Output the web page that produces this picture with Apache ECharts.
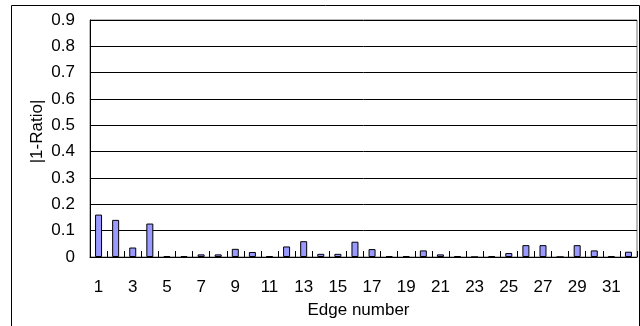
<!DOCTYPE html>
<html>
<head>
<meta charset="utf-8">
<script src="https://cdn.jsdelivr.net/npm/echarts@6/dist/echarts.min.js"></script>
<style>html,body{margin:0;padding:0;background:#fff}#c{width:640px;height:326px}</style>
</head>
<body>
<div id="c"></div>
<script>
var categories = ['1','2','3','4','5','6','7','8','9','10','11','12','13','14','15','16','17','18','19','20','21','22','23','24','25','26','27','28','29','30','31','32'];
var ratioValues = [0.161,0.141,0.036,0.127,0.003,0.003,0.010,0.010,0.031,0.019,0.003,0.040,0.060,0.012,0.012,0.058,0.030,0.003,0.003,0.025,0.010,0.003,0,0.003,0.015,0.045,0.045,0,0.045,0.025,0.003,0.020];
var yTicks = [0,0.1,0.2,0.3,0.4,0.5,0.6,0.7,0.8,0.9];
var xAxisName = 'Edge number';
var yAxisName = '|1-Ratio|';

var chart = echarts.init(document.getElementById('c'), null, {renderer:'canvas'});
var font = 'Liberation Sans, Arial, sans-serif';
chart.setOption({
  animation: false,
  graphic: [{
    type: 'rect',
    shape: {x: 11.5, y: 5.5, width: 628, height: 330},
    style: {fill: 'none', stroke: '#000', lineWidth: 1},
    z: 0
  }],
  grid: {left: 90, right: 3, top: 20, bottom: 69, show: true, borderColor: '#777', borderWidth: 1},
  xAxis: {
    type: 'category',
    data: categories,
    name: xAxisName,
    nameLocation: 'middle',
    nameGap: 45,
    nameMoveOverlap: false,
    nameTextStyle: {fontFamily: font, fontSize: 17, color: '#000', padding: [0, 10, 0, 0]},
    axisLine: {lineStyle: {color: '#000', width: 1}},
    axisTick: {show: true, inside: true, length: 6, interval: 0, lineStyle: {color: '#000'}},
    axisLabel: {interval: 1, margin: 22, fontFamily: font, fontSize: 17, color: '#000'}
  },
  yAxis: {
    type: 'value',
    min: yTicks[0],
    max: yTicks[yTicks.length - 1],
    interval: 0.1,
    name: yAxisName,
    nameLocation: 'middle',
    nameGap: 44,
    nameMoveOverlap: false,
    nameTextStyle: {fontFamily: font, fontSize: 17, color: '#000', padding: [0, 0, 0, 14]},
    axisLine: {show: true, lineStyle: {color: '#000', width: 1}},
    axisTick: {show: true, inside: true, length: 6, lineStyle: {color: '#000'}},
    splitLine: {show: true, lineStyle: {color: '#000', width: 1}},
    axisLabel: {margin: 15, fontFamily: font, fontSize: 17, color: '#000', padding: [7, 0, 0, 0],
      formatter: function (v) { return String(Math.round(v * 10) / 10); }}
  },
  series: [{
    type: 'bar',
    data: ratioValues,
    barWidth: 7,
    itemStyle: {color: '#9999ff', borderColor: '#000', borderWidth: 1}
  }]
});
</script>
</body>
</html>
